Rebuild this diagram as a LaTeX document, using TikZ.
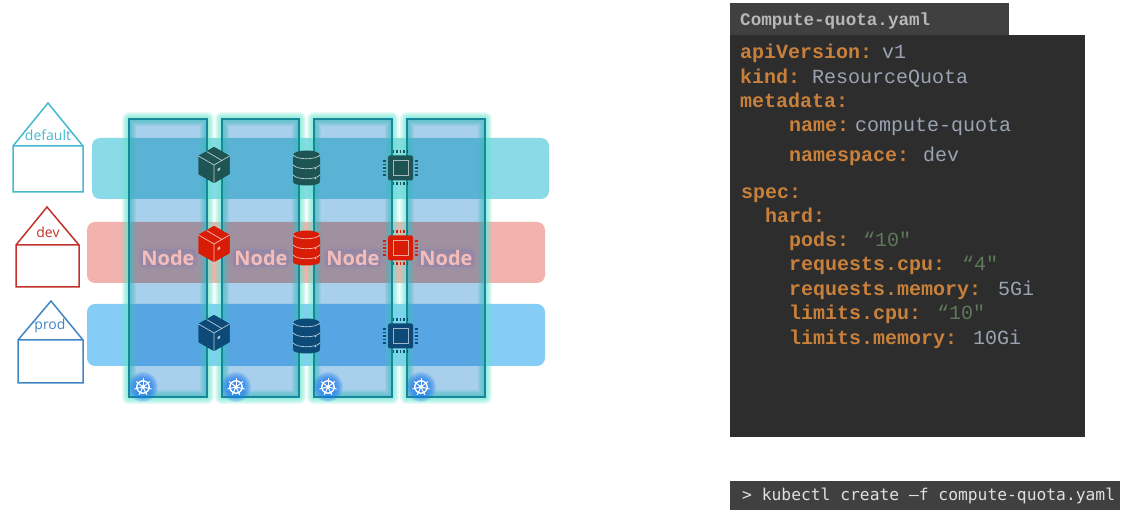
\documentclass[tikz,border=0pt]{standalone}
\usepackage{fontspec}
\setmainfont{Open Sans}
\setmonofont{Liberation Mono}
\newfontfamily\cmdfont{DejaVu Sans Mono}
\definecolor{bandteal}{HTML}{8ADBE7}
\definecolor{bandred}{HTML}{F2B2AD}
\definecolor{bandblue}{HTML}{85CCF6}
\definecolor{colfill}{HTML}{A8D0EC}
\definecolor{coledge}{HTML}{17879A}
\definecolor{colglow}{HTML}{66E6CF}
\definecolor{icondefault}{HTML}{1E5454}
\definecolor{icondev}{HTML}{D81C06}
\definecolor{iconprod}{HTML}{0D4A78}
\definecolor{housedefault}{HTML}{45B8CF}
\definecolor{housedev}{HTML}{C2322A}
\definecolor{houseprod}{HTML}{3F86C4}
\definecolor{nodehalo}{HTML}{7F6FB5}
\definecolor{helmglow}{HTML}{1E7BF0}
\definecolor{panel}{HTML}{2D2D2D}
\definecolor{panelhead}{HTML}{404040}
\definecolor{yamlkey}{HTML}{C8803A}
\definecolor{yamlval}{HTML}{9BA3B3}
\definecolor{yamlstr}{HTML}{5F7A5A}
\tikzset{
  pics/cubeicon/.style={code={
    \fill[#1] (0,-18) -- (15.5,-9) -- (15.5,9) -- (0,18) -- (-15.5,9) -- (-15.5,-9) -- cycle;
    \draw[#1, line width=1, line join=round] (0,-17.5) -- (15,-9) -- (15,9) -- (0,17.5) -- (-15,9) -- (-15,-9) -- cycle;
    \draw[white, opacity=.7, line width=.7] (-15.5,-9) -- (0,0) -- (15.5,-9) (0,0) -- (0,18);
    \draw[white, opacity=.7, line width=.7] (-7.5,-13.5) -- (8,-4.5);
    \fill[white, opacity=.7] (3.5,4) -- (6,2.5) -- (6,5) -- (3.5,6.5) -- cycle;
  }},
  pics/dbicon/.style={code={
    \fill[#1, rounded corners=3] (-13.5,-13) -- (13.5,-13) -- (13.5,15) -- (-13.5,15) -- cycle;
    \fill[#1] (0,-13) ellipse (13.5 and 4.5);
    \fill[#1] (0,14) ellipse (13.5 and 3.5);
    \foreach \d in {-13,-3,7}
      \draw[white, opacity=.7, line width=.7] (-13.5,\d) .. controls (-9,\d+5) and (9,\d+5) .. (13.5,\d);
    \foreach \d in {-2,8}
      \fill[white, opacity=.7] (9,\d+2.5) circle (.9);
  }},
  pics/chipicon/.style={code={
    \fill[#1, rounded corners=1.5] (-12.5,-12.5) rectangle (12.5,12.5);
    \draw[white, opacity=.6, line width=1] (-7.5,-7.5) rectangle (7.5,7.5);
    \foreach \p in {-7,-3.5,0,3.5,7} {
      \draw[#1, line width=1.5] (\p,-17.5) -- (\p,-14.5) (\p,14.5) -- (\p,17.5);
      \draw[#1, line width=1.5] (-17.5,\p) -- (-14.5,\p) (14.5,\p) -- (17.5,\p);
    }
  }},
  pics/helmicon/.style={code={
    \foreach \g in {15,14,13,12,11,10,9,8,7}
      \fill[helmglow, opacity=.15] (0,0) circle (\g);
    \draw[white, line width=1.4] (0,0) circle (6.2);
    \fill[white] (0,0) circle (2);
    \foreach \a in {0,51.4,102.9,154.3,205.7,257.1,308.6}
      \draw[white, line width=1] (\a-90:1.5) -- (\a-90:8.8);
  }}
}
\begin{document}
\begin{tikzpicture}[x=1pt, y=-1pt,
  house/.style={line width=1.5, line join=miter},
  houselabel/.style={font=\fontsize{14}{14}\selectfont},
  band/.style={rounded corners=8},
  nodelabel/.style={font=\fontsize{20}{20}\selectfont\bfseries, text=bandred!85!white,
    fill=nodehalo, fill opacity=.22, text opacity=1, rounded corners=4, inner sep=1,
    preaction={draw=nodehalo, line width=5, draw opacity=.1, line join=round}},
  key/.style={anchor=base west, inner sep=0, text=yamlkey,
    font=\fontsize{20}{20}\selectfont\ttfamily\bfseries},
  val/.style={anchor=base west, inner sep=0, text=yamlval,
    font=\fontsize{20}{20}\selectfont\ttfamily},
  str/.style={val, text=yamlstr}]
  \useasboundingbox (0,0) rectangle (1130,518);

  % namespaces
  \draw[house, housedefault] (48,103) -- (83,146) -- (83,192) -- (13,192) -- (13,146) -- cycle (13,146) -- (83,146);
  \draw[house, housedev] (47,207) -- (79,245) -- (79,287) -- (16,287) -- (16,245) -- cycle (16,245) -- (79,245);
  \draw[house, houseprod] (51,301) -- (83,340) -- (83,383) -- (18,383) -- (18,340) -- cycle (18,340) -- (83,340);
  \node[houselabel, text=housedefault] (nsdefault) at (48,135) {default};
  \node[houselabel, text=housedev] (nsdev) at (48,232) {dev};
  \node[houselabel, text=houseprod] (nsprod) at (50,326) {prod};

  % bands
  \fill[band, bandteal] (92,138) rectangle (549,199);
  \fill[band, bandred] (87,222) rectangle (545,283);
  \fill[band, bandblue] (87,304) rectangle (545,366);

  % nodes
  \foreach \xa/\xb in {129/207, 222/299, 314/392, 407/485} {
    \foreach \w in {14,12,10,8,6,4}
      \draw[colglow, line width=\w, opacity=.16, line join=round] (\xa,119) rectangle (\xb,397);
    \fill[colfill, blend mode=multiply] (\xa,119) rectangle (\xb,397);
    \draw[coledge, line width=1.5] (\xa,119) rectangle (\xb,397);
  }
  \foreach \i/\x in {1/168, 2/261, 3/353, 4/446}
    \node[nodelabel] (node\i) at (\x,258) {Node};

  % icons
  \foreach \ya/\yb/\col in {165/168/icondefault, 244/248/icondev, 333/336/iconprod} {
    \pic at (214,\ya) {cubeicon=\col};
    \pic at (306.5,\yb) {dbicon=\col};
    \pic at (400.5,\yb) {chipicon=\col};
  }
  \foreach \x in {143,236,328,421}
    \pic at (\x,387) {helmicon};

  % yaml file
  \fill[panel] (730,35) rectangle (1085,437);
  \fill[panelhead] (730,3) rectangle (1009,35);
  \node[anchor=base west, inner sep=0, text=black!28,
    font=\fontsize{17.6}{18}\selectfont\ttfamily\bfseries] (filename) at (740,26) {Compute-quota.yaml};
  \foreach \i/\x/\y/\t in {1/740/59/apiVersion:, 2/740/84/kind:, 3/740/108/metadata:,
    4/789/132/name:, 5/789/162/namespace:, 6/741/199/spec:, 7/765/223/hard:, 8/789/247/pods:,
    9/789/271/requests.cpu:, 10/789/296/requests.memory:, 11/789/320/limits.cpu:, 12/789/345/limits.memory:}
    \node[key] (key\i) at (\x,\y) {\t};
  \node[val] (apiver) at (882,59) {v1};
  \node[val] (kindval) at (812,84) {ResourceQuota};
  \node[val] (nameval) at (855,132) {compute-quota};
  \node[val] (nsval) at (923,162) {dev};
  \node[str] (podsval) at (863,247) {“10"};
  \node[str] (reqcpu) at (962,271) {“4"};
  \node[val] (reqmem) at (998,296) {5Gi};
  \node[str] (limcpu) at (937,320) {“10"};
  \node[val] (limmem) at (973,345) {10Gi};

  % command
  \fill[panelhead] (730,481) rectangle (1120,510);
  \node[anchor=base west, inner sep=0, text=black!12,
    font=\fontsize{16.3}{17}\selectfont\cmdfont] (cmd) at (742,500) {> kubectl create –f compute-quota.yaml};
\end{tikzpicture}
\end{document}
